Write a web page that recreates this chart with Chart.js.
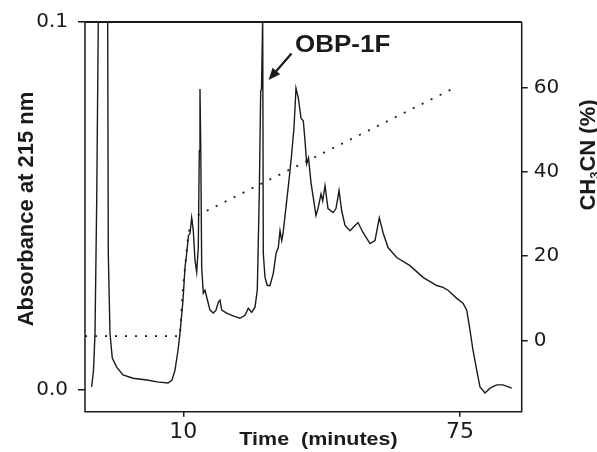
<!DOCTYPE html>
<html>
<head>
<meta charset="utf-8">
<script src="https://cdn.jsdelivr.net/npm/chart.js@4.4.1/dist/chart.umd.min.js"></script>
<style>
  html, body { margin: 0; padding: 0; background: #fff; }
  canvas { display: block; }
</style>
</head>
<body>
<canvas id="hplcChart" width="597" height="452"></canvas>
<script>
// A215 trace (time in minutes, absorbance units)
const timeMin = [-11.52, -11.09, -10.74, -10.34, -9.97, -8.86, -7.76, -7.62, -7.22, -6.68,
  -5.65, -4.17, -1.82, 1.47, 3.82, 6.41, 7.35, 8.05, 8.76, 9.22,
  9.93, 10.40, 10.87, 11.22, 11.57, 11.97, 12.35, 12.75, 13.15, 13.52,
  13.76, 13.92, 14.11, 14.32, 14.70, 15.10, 15.50, 16.27, 17.05, 17.68,
  18.22, 18.62, 19.02, 20.20, 21.37, 22.54, 23.32, 24.49, 25.27, 26.07,
  26.84, 27.38, 27.85, 28.18, 28.37, 28.65, 28.79, 29.19, 29.73, 30.37,
  31.14, 31.78, 32.32, 32.72, 33.12, 33.42, 34.29, 35.07, 35.46, 36.00,
  36.47, 37.02, 37.65, 38.19, 38.59, 38.99, 39.41, 40.00, 40.40, 41.17,
  41.64, 42.35, 42.75, 43.29, 43.99, 45.17, 45.87, 46.58, 47.21, 47.99,
  49.16, 50.33, 51.04, 52.21, 53.86, 55.03, 56.04, 56.98, 58.09, 60.13,
  63.25, 66.31, 69.53, 71.01, 72.18, 74.23, 75.70, 76.58, 77.35, 78.05,
  78.92, 79.70, 80.87, 82.05, 83.62, 85.10, 87.15];
const absorbance = [0.0008, 0.0054, 0.0154, 0.0514, 0.100, 0.133, 0.100, 0.0371, 0.0154, 0.0087,
  0.0062, 0.0041, 0.0032, 0.0027, 0.0022, 0.0019, 0.0027, 0.0054, 0.0108, 0.0154,
  0.0244, 0.0333, 0.0379, 0.0420, 0.0425, 0.0468, 0.0433, 0.0352, 0.0320, 0.0387,
  0.0650, 0.0818, 0.0650, 0.0333, 0.0263, 0.0271, 0.0252, 0.0217, 0.0209, 0.0217,
  0.0238, 0.0244, 0.0217, 0.0209, 0.0203, 0.0198, 0.0195, 0.0203, 0.0222, 0.0211,
  0.0225, 0.0271, 0.0533, 0.0812, 0.0818, 0.1015, 0.0371, 0.0306, 0.0284, 0.0284,
  0.0317, 0.0371, 0.0387, 0.0433, 0.0406, 0.0425, 0.0514, 0.0596, 0.0642, 0.0712,
  0.0820, 0.0793, 0.0739, 0.0731, 0.0677, 0.0615, 0.0631, 0.0563, 0.0533, 0.0474,
  0.0493, 0.0533, 0.0514, 0.0555, 0.0493, 0.0482, 0.0493, 0.0542, 0.0487, 0.0447,
  0.0433, 0.0447, 0.0455, 0.0428, 0.0398, 0.0406, 0.0468, 0.0425, 0.0387, 0.0360,
  0.0338, 0.0306, 0.0284, 0.0279, 0.0271, 0.0249, 0.0236, 0.0217, 0.0162, 0.0108,
  0.0054, 0.0008, -0.0008, 0.0005, 0.0014, 0.0014, 0.0005];

// CH3CN gradient (dotted line, right axis)
const gradTime = [-13.09, 9.22, 9.62, 10.00, 10.40, 10.80, 11.17, 11.57, 12.21, 73.83];
const gradPct = [1, 1, 7.9, 13.4, 17.3, 21.3, 25.2, 26.8, 29.1, 60];

const timeTicks = [10, 75];
const absTicks = [0, 0.1];
const pctTicks = [0, 20, 40, 60];

const ink = '#1a1a1a';
const tickFont = { family: "'DejaVu Sans', sans-serif", size: 20 };

// horizontal text in the figure is a bit wider than normal
function wideText(ctx, text, x, y, align, font, sx) {
  ctx.save();
  ctx.font = font;
  ctx.textAlign = align;
  ctx.textBaseline = 'alphabetic';
  ctx.translate(x, y);
  ctx.scale(sx, 1);
  ctx.fillText(text, 0, 0);
  ctx.restore();
}

const annotate = {
  id: 'annotate',
  afterDraw(chart) {
    const { ctx, chartArea: a } = chart;
    ctx.save();
    ctx.strokeStyle = ink;
    ctx.fillStyle = ink;

    // frame
    ctx.lineWidth = 1.5;
    ctx.beginPath();
    ctx.moveTo(a.left, a.top);
    ctx.lineTo(a.left, a.bottom);
    ctx.lineTo(a.right, a.bottom);
    ctx.lineTo(a.right, a.top);
    ctx.stroke();
    ctx.lineWidth = 2;
    ctx.beginPath();
    ctx.moveTo(a.left, a.top);
    ctx.lineTo(a.right, a.top);
    ctx.stroke();

    // left title
    ctx.save();
    ctx.font = "bold 22px 'Liberation Sans', Arial, sans-serif";
    ctx.textAlign = 'center';
    ctx.textBaseline = 'alphabetic';
    ctx.translate(33, 209);
    ctx.rotate(-Math.PI / 2);
    ctx.fillText('Absorbance at 215 nm', 0, 0);
    ctx.restore();

    // right title with subscript
    ctx.save();
    const big = "bold 22px 'Liberation Sans', Arial, sans-serif";
    const small = "bold 13px 'Liberation Sans', Arial, sans-serif";
    const parts = [['CH', big, 0], ['3', small, 4], ['CN (%)', big, 0]];
    let total = 0;
    parts.forEach(p => { ctx.font = p[1]; total += ctx.measureText(p[0]).width; });
    ctx.translate(595, 155);
    ctx.rotate(-Math.PI / 2);
    ctx.textAlign = 'left';
    let cx = -total / 2;
    parts.forEach(p => {
      ctx.font = p[1];
      ctx.fillText(p[0], cx, p[2]);
      cx += ctx.measureText(p[0]).width;
    });
    ctx.restore();

    // bottom title
    wideText(ctx, 'Time  (minutes)', 318.5, 445, 'center', "bold 19px 'Liberation Sans', Arial, sans-serif", 1.13);

    // peak label + arrow
    wideText(ctx, 'OBP-1F', 295, 52, 'left', "bold 23px 'Liberation Sans', Arial, sans-serif", 1.13);
    const x0 = 291.5, y0 = 53.5, x1 = 268.5, y1 = 80;
    const ang = Math.atan2(y1 - y0, x1 - x0);
    ctx.lineWidth = 2.2;
    ctx.beginPath();
    ctx.moveTo(x0, y0);
    ctx.lineTo(x1 - 8 * Math.cos(ang), y1 - 8 * Math.sin(ang));
    ctx.stroke();
    ctx.beginPath();
    ctx.moveTo(x1, y1);
    ctx.lineTo(x1 - 12 * Math.cos(ang) + 5 * Math.sin(ang), y1 - 12 * Math.sin(ang) - 5 * Math.cos(ang));
    ctx.lineTo(x1 - 12 * Math.cos(ang) - 5 * Math.sin(ang), y1 - 12 * Math.sin(ang) + 5 * Math.cos(ang));
    ctx.closePath();
    ctx.fill();
    ctx.restore();
  }
};

new Chart(document.getElementById('hplcChart'), {
  type: 'line',
  data: {
    datasets: [{
      label: 'A215',
      data: timeMin.map((t, i) => ({ x: t, y: absorbance[i] })),
      yAxisID: 'y',
      borderColor: ink,
      borderWidth: 1.4,
      pointRadius: 0,
      tension: 0
    }, {
      label: 'CH3CN (%)',
      data: gradTime.map((t, i) => ({ x: t, y: gradPct[i] })),
      yAxisID: 'y2',
      borderColor: ink,
      borderWidth: 1.8,
      borderDash: [2, 8],
      pointRadius: 0,
      tension: 0
    }]
  },
  options: {
    responsive: false,
    animation: false,
    layout: { padding: { top: 20, left: 0, right: 0, bottom: 0 } },
    plugins: { legend: { display: false }, tooltip: { enabled: false } },
    scales: {
      x: {
        type: 'linear',
        min: -13.09,
        max: 89.49,
        afterBuildTicks: s => { s.ticks = timeTicks.map(v => ({ value: v })); },
        afterFit: s => { s.height = 40.3; },
        grid: { drawOnChartArea: false, tickLength: 5, color: ink, lineWidth: 1.5 },
        border: { display: false },
        ticks: { autoSkip: false, maxRotation: 0, padding: 2, color: ink, font: { family: "'DejaVu Sans', sans-serif", size: 22 } }
      },
      y: {
        position: 'left',
        min: -0.0059,
        max: 0.1,
        afterBuildTicks: s => { s.ticks = absTicks.map(v => ({ value: v })); },
        afterFit: s => { s.width = 85; },
        grid: { drawOnChartArea: false, tickLength: 7, color: ink, lineWidth: 1.5 },
        border: { display: false },
        ticks: { padding: 10, color: ink, font: tickFont, callback: v => v.toFixed(1) }
      },
      y2: {
        position: 'right',
        min: -16.93,
        max: 75.56,
        afterBuildTicks: s => { s.ticks = pctTicks.map(v => ({ value: v })); },
        afterFit: s => { s.width = 75.3; },
        grid: { drawOnChartArea: false, tickLength: 6, color: ink, lineWidth: 1.5 },
        border: { display: false },
        ticks: { padding: 6, color: ink, font: tickFont }
      }
    }
  },
  plugins: [annotate]
});
</script>
</body>
</html>
